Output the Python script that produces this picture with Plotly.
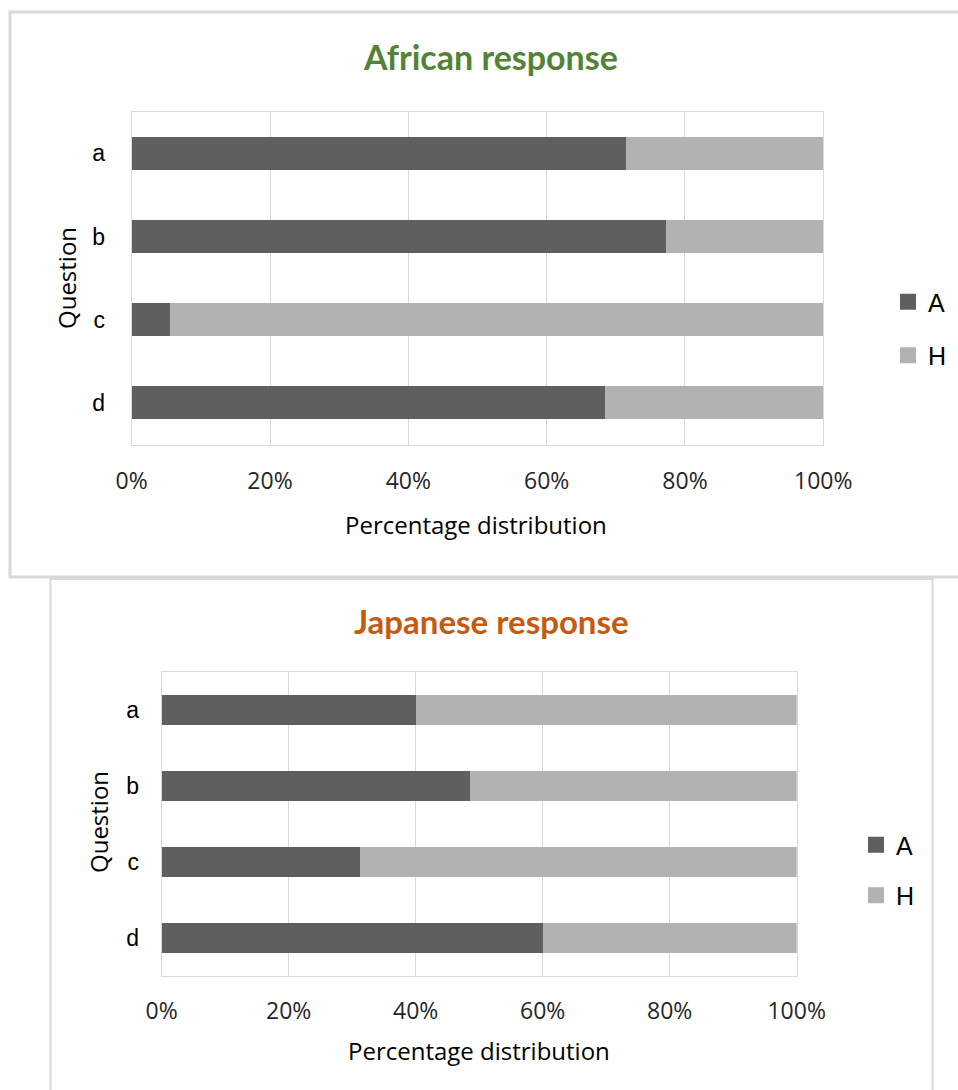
import plotly.graph_objects as go

# Questions on the vertical axis
questions = ["a", "b", "c", "d"]

# Share of "A" and "H" answers per question (fractions of 1)
african_A = [0.714, 0.772, 0.056, 0.685]
african_H = [0.286, 0.228, 0.944, 0.315]
japanese_A = [0.400, 0.486, 0.312, 0.601]
japanese_H = [0.600, 0.514, 0.688, 0.399]

series_names = ["A", "H"]
x_ticks = [0, 0.2, 0.4, 0.6, 0.8, 1.0]
x_tick_labels = ["0%", "20%", "40%", "60%", "80%", "100%"]

W, H = 958, 1090
DARK = "#5f5f5f"
LIGHT = "#b2b2b2"
GRID = "#d9d9d9"
TICK_FONT = dict(family="Open Sans", size=23, color="#262626")
CAT_FONT = dict(family="Liberation Sans", size=23, color="#000000")


def px(x):
    return x / W


def py(y):
    return 1 - y / H


fig = go.Figure()

panels = [
    dict(A=african_A, H=african_H, xa="x", ya="y", legend="legend"),
    dict(A=japanese_A, H=japanese_H, xa="x2", ya="y2", legend="legend2"),
]

for p in panels:
    for name, vals, color in zip(series_names, [p["A"], p["H"]], [DARK, LIGHT]):
        fig.add_trace(go.Bar(
            y=questions, x=vals, name=name, orientation="h",
            marker=dict(color=color, line=dict(width=0)),
            xaxis=p["xa"], yaxis=p["ya"], showlegend=False,
            hovertemplate="%{y}: %{x:.0%}<extra>" + name + "</extra>",
        ))
    # legend entries with square swatches
    for name, color in zip(series_names, [DARK, LIGHT]):
        fig.add_trace(go.Scatter(
            x=[None], y=[None], mode="markers", name=name,
            marker=dict(symbol="square", size=16, color=color),
            xaxis=p["xa"], yaxis=p["ya"], legend=p["legend"],
            legendgroup=p["legend"] + name, showlegend=True,
        ))

axis_x_common = dict(
    range=[0, 1], tickvals=x_ticks, ticktext=x_tick_labels,
    showgrid=True, gridcolor=GRID, gridwidth=1,
    showline=True, linecolor=GRID, linewidth=1, mirror=True,
    zeroline=False, ticks="", tickfont=TICK_FONT, fixedrange=True,
    automargin=False,
)
axis_y_common = dict(
    type="category", categoryorder="array", categoryarray=questions,
    autorange="reversed", showgrid=False,
    showline=True, linecolor=GRID, linewidth=1, mirror=True,
    ticks="", tickfont=CAT_FONT, fixedrange=True, automargin=False,
)

fig.update_layout(
    width=W, height=H,
    margin=dict(l=0, r=0, t=0, b=0, autoexpand=False),
    paper_bgcolor="white", plot_bgcolor="white",
    barmode="stack", bargap=0.605,
    xaxis=dict(axis_x_common, domain=[px(131.7), px(823.3)], anchor="y",
               ticklabelstandoff=16),
    yaxis=dict(axis_y_common, domain=[py(444.5), py(111.7)], anchor="x",
               ticklabelstandoff=21),
    xaxis2=dict(axis_x_common, domain=[px(161.7), px(796.7)], anchor="y2",
                ticklabelstandoff=14),
    yaxis2=dict(axis_y_common, domain=[py(976), py(671.7)], anchor="x2",
                ticklabelstandoff=17),
    legend=dict(
        x=px(888), y=py(279), xanchor="left", yanchor="top",
        font=dict(family="Liberation Sans", size=25, color="#000000"),
        bgcolor="rgba(0,0,0,0)", tracegroupgap=18, traceorder="grouped",
        itemclick=False, itemdoubleclick=False,
    ),
    legend2=dict(
        x=px(856), y=py(822), xanchor="left", yanchor="top",
        font=dict(family="Liberation Sans", size=25, color="#000000"),
        bgcolor="rgba(0,0,0,0)", tracegroupgap=15, traceorder="grouped",
        itemclick=False, itemdoubleclick=False,
    ),
    showlegend=True,
)

# chart-area frames
fig.add_shape(type="rect", xref="paper", yref="paper",
              x0=px(10), x1=px(985), y0=py(577), y1=py(12),
              line=dict(color=GRID, width=3), layer="below")
fig.add_shape(type="rect", xref="paper", yref="paper",
              x0=px(50.5), x1=px(932.5), y0=py(1110), y1=py(579),
              line=dict(color=GRID, width=2), layer="below")


def label(text, x, y, font, angle=0):
    fig.add_annotation(text=text, xref="paper", yref="paper",
                       x=px(x), y=py(y), xanchor="center", yanchor="middle",
                       showarrow=False, textangle=angle, font=font)


# titles
label("<b>African response</b>", 490, 57,
      dict(family="Lato", size=34, color="#548235"))
label("<b>Japanese response</b>", 491, 621,
      dict(family="Lato", size=33, color="#c55a11"))

# axis titles
AX_TITLE_FONT = dict(family="Open Sans", size=24, color="#000000")
label("Percentage distribution", 476, 524, AX_TITLE_FONT)
label("Percentage distribution", 479, 1050, AX_TITLE_FONT)
label("Question", 66, 278, AX_TITLE_FONT, angle=-90)
label("Question", 98, 822, AX_TITLE_FONT, angle=-90)

fig.write_html("out.html")
